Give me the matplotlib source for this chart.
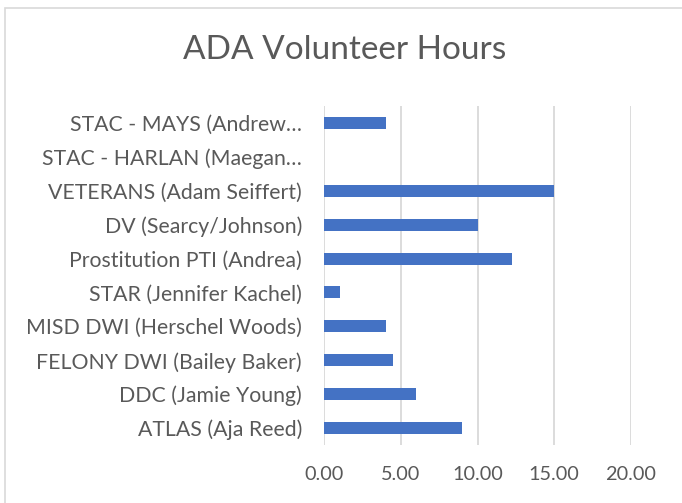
import matplotlib.pyplot as plt
from matplotlib.patches import Rectangle

# data, bottom to top as drawn
categories = ['ATLAS (Aja Reed)', 'DDC (Jamie Young)', 'FELONY DWI (Bailey Baker)',
              'MISD DWI (Herschel Woods)', 'STAR (Jennifer Kachel)',
              'Prostitution PTI (Andrea)', 'DV (Searcy/Johnson)',
              'VETERANS (Adam Seiffert)', 'STAC - HARLAN (Maegan\u2026',
              'STAC - MAYS (Andrew\u2026']
hours = [9, 6, 4.5, 4, 1, 12.25, 10, 15, 0, 4]
xticks = [0, 5, 10, 15, 20]

bar_color = '#4472C4'
text_color = '#595959'
grid_color = '#D9D9D9'

plt.rcParams['font.family'] = ['Lato', 'DejaVu Sans']

fig = plt.figure(figsize=(6.82, 5.03), dpi=100)
ax = fig.add_axes([0.4755, 0.1153, 0.4493, 0.674])

# chart area border (runs off the right and bottom edges)
fig.patches.append(Rectangle((5 / 682, -0.1), 1.2, 1 - 8 / 503 + 0.1,
                             transform=fig.transFigure, fill=False,
                             edgecolor=grid_color, linewidth=1.2))

y = range(len(categories))
ax.barh(y, hours, height=0.355, color=bar_color, zorder=3)

ax.set_xlim(0, 20)
ax.set_ylim(-0.5, len(categories) - 0.5)
ax.set_xticks(xticks)
ax.set_xticklabels(['%.2f' % v for v in xticks])
ax.set_yticks(list(y))
ax.set_yticklabels(categories)

ax.grid(axis='x', color=grid_color, linewidth=1.3, zorder=0)
for s in ax.spines.values():
    s.set_visible(False)
ax.tick_params(axis='both', length=0, colors=text_color)
ax.tick_params(axis='y', pad=16, labelsize=15.3)
ax.tick_params(axis='x', pad=15, labelsize=14.3)

fig.text(0.506, 0.90, 'ADA Volunteer Hours', ha='center', va='center',
         fontsize=24, color=text_color)

fig.savefig('out.png', dpi=100)
